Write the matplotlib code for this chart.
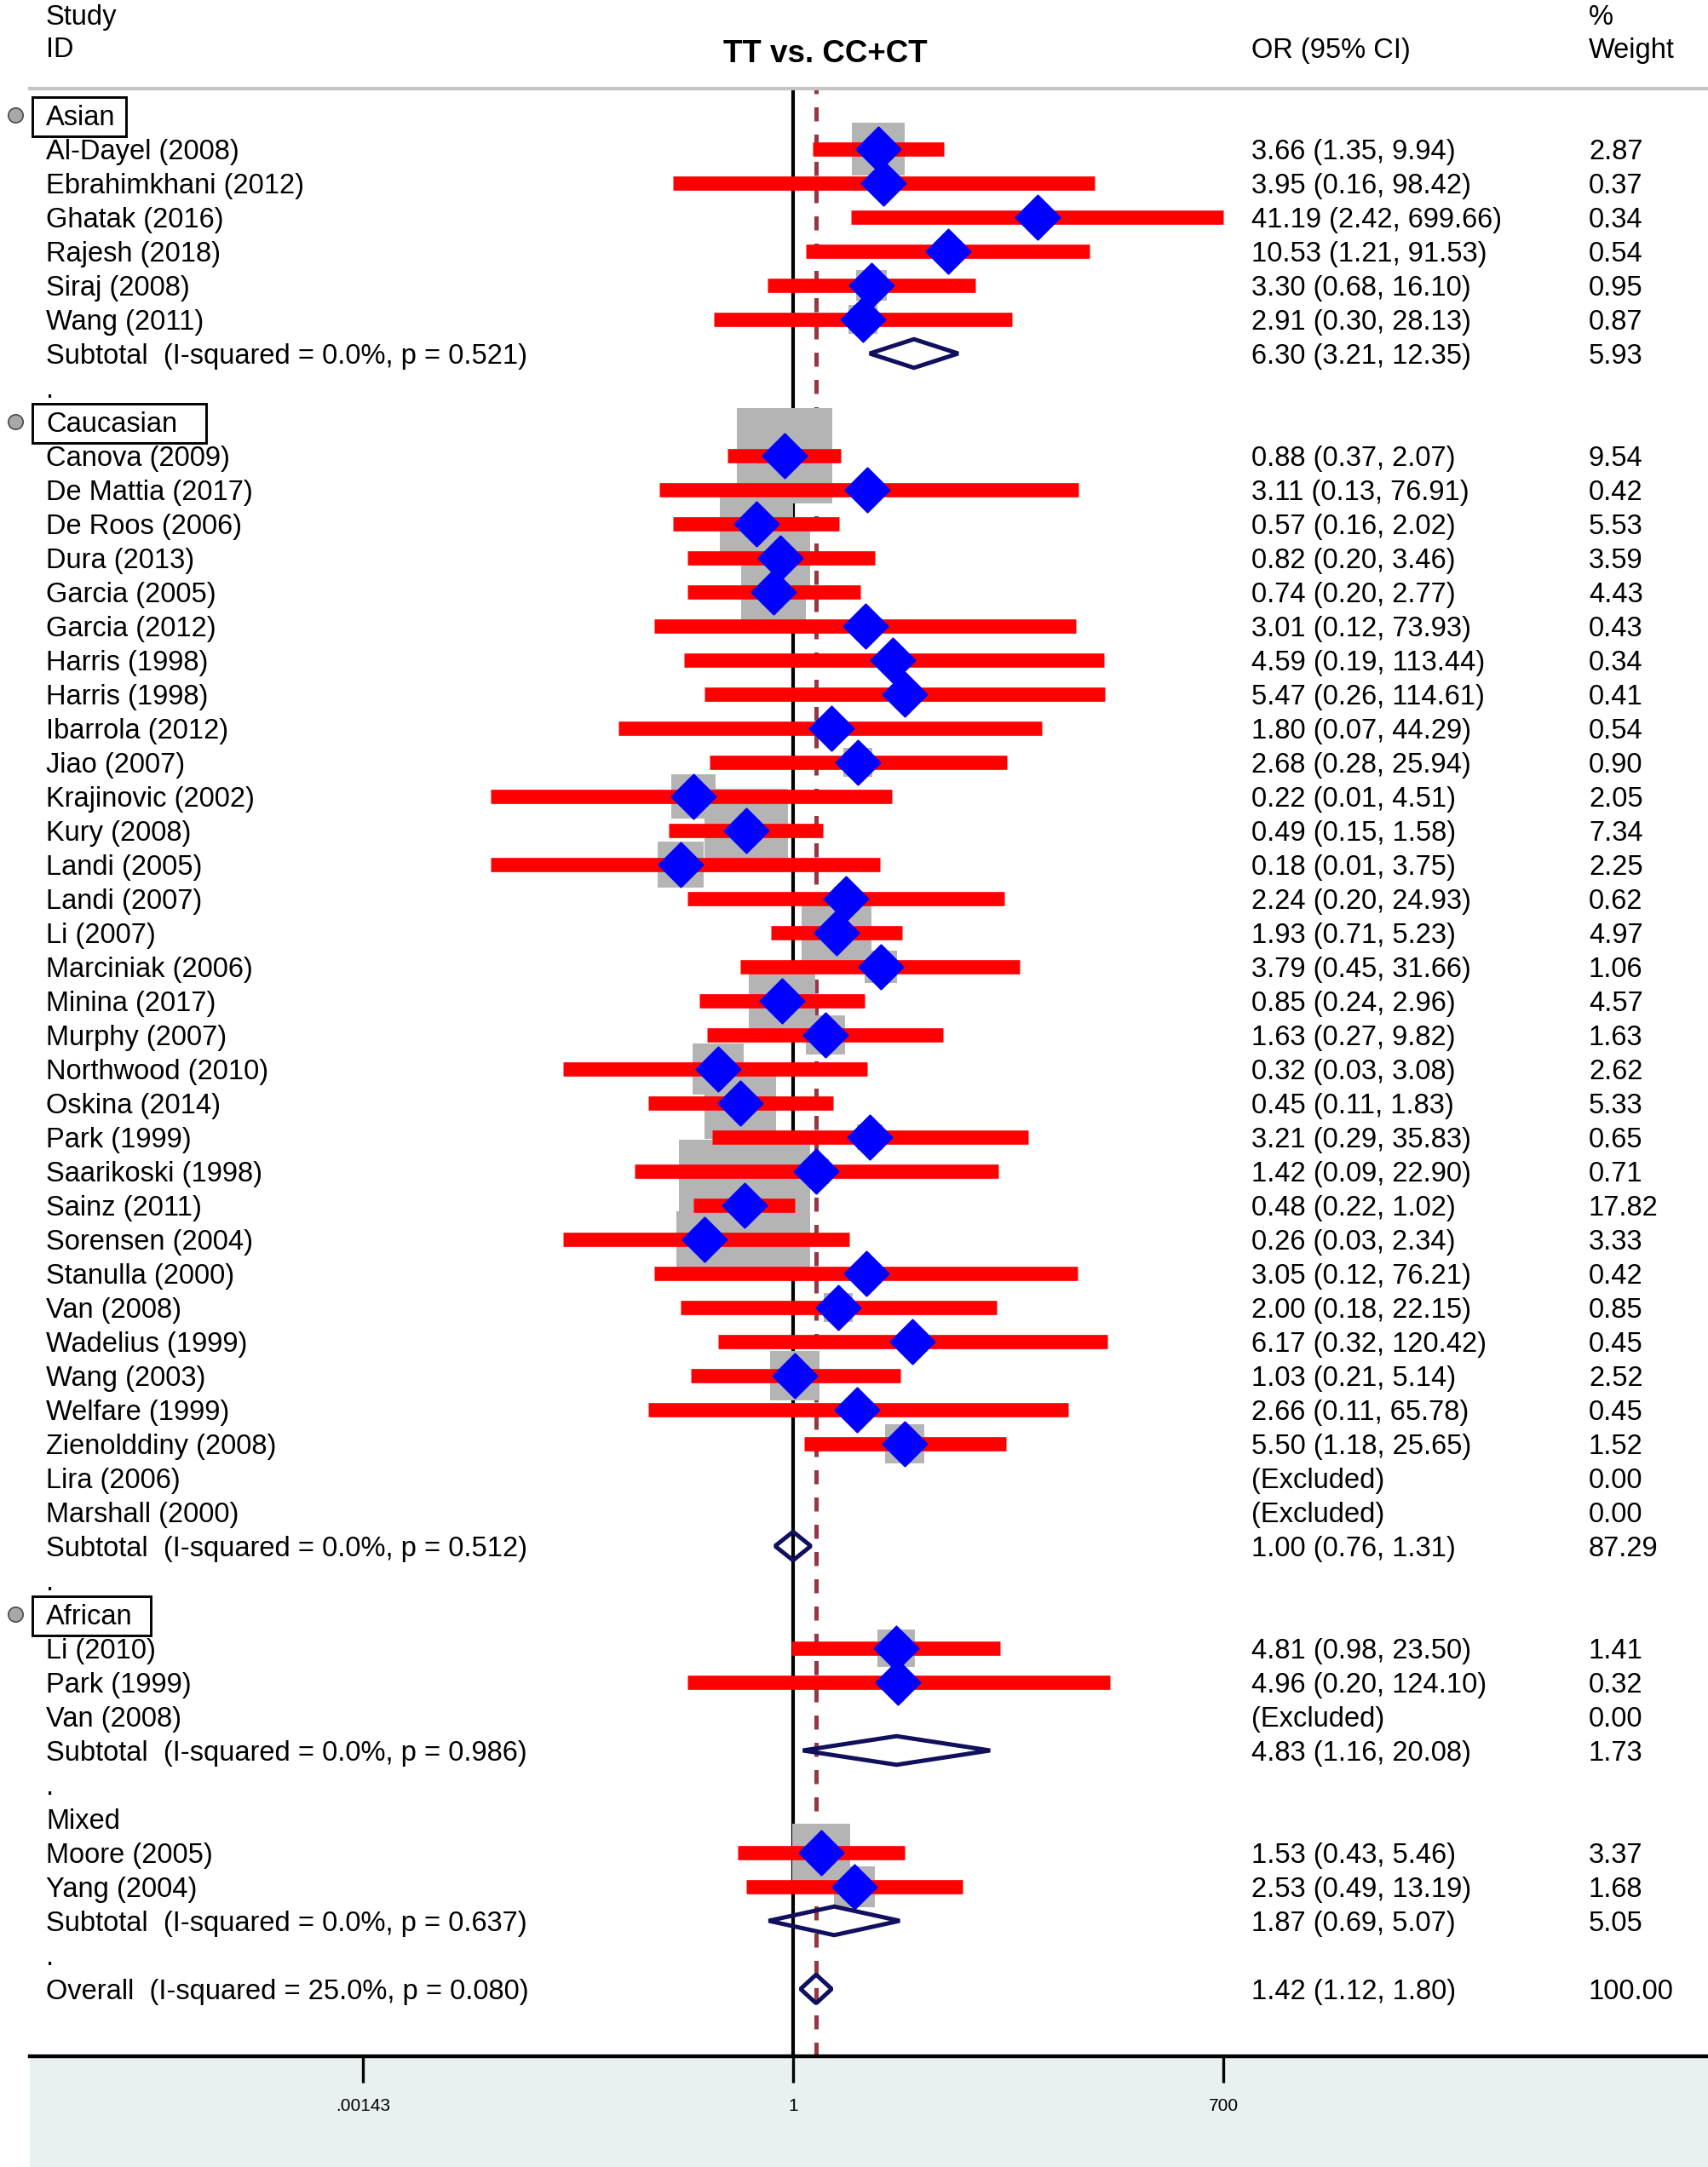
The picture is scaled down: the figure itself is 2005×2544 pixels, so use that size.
import numpy as np
import matplotlib
matplotlib.use("Agg")
import matplotlib.pyplot as plt
from matplotlib import transforms
from matplotlib.path import Path
from matplotlib.patches import Polygon, Rectangle
from matplotlib.ticker import NullLocator

plt.rcParams['font.family'] = ['Liberation Sans', 'DejaVu Sans']

# ---------------- data ----------------
asian_names = ["Al-Dayel (2008)", "Ebrahimkhani (2012)", "Ghatak (2016)", "Rajesh (2018)",
               "Siraj (2008)", "Wang (2011)"]
asian_or = [3.66, 3.95, 41.19, 10.53, 3.30, 2.91]
asian_lo = [1.35, 0.16, 2.42, 1.21, 0.68, 0.30]
asian_hi = [9.94, 98.42, 699.66, 91.53, 16.10, 28.13]
asian_w = [2.87, 0.37, 0.34, 0.54, 0.95, 0.87]
asian_sub = (6.30, 3.21, 12.35, 5.93, "Subtotal  (I-squared = 0.0%, p = 0.521)")

cauc_names = ["Canova (2009)", "De Mattia (2017)", "De Roos (2006)", "Dura (2013)", "Garcia (2005)",
              "Garcia (2012)", "Harris (1998)", "Harris (1998)", "Ibarrola (2012)", "Jiao (2007)",
              "Krajinovic (2002)", "Kury (2008)", "Landi (2005)", "Landi (2007)", "Li (2007)",
              "Marciniak (2006)", "Minina (2017)", "Murphy (2007)", "Northwood (2010)", "Oskina (2014)",
              "Park (1999)", "Saarikoski (1998)", "Sainz (2011)", "Sorensen (2004)", "Stanulla (2000)",
              "Van (2008)", "Wadelius (1999)", "Wang (2003)", "Welfare (1999)", "Zienolddiny (2008)",
              "Lira (2006)", "Marshall (2000)"]
cauc_or = [0.88, 3.11, 0.57, 0.82, 0.74, 3.01, 4.59, 5.47, 1.80, 2.68, 0.22, 0.49, 0.18, 2.24, 1.93,
           3.79, 0.85, 1.63, 0.32, 0.45, 3.21, 1.42, 0.48, 0.26, 3.05, 2.00, 6.17, 1.03, 2.66, 5.50,
           None, None]
cauc_lo = [0.37, 0.13, 0.16, 0.20, 0.20, 0.12, 0.19, 0.26, 0.07, 0.28, 0.01, 0.15, 0.01, 0.20, 0.71,
           0.45, 0.24, 0.27, 0.03, 0.11, 0.29, 0.09, 0.22, 0.03, 0.12, 0.18, 0.32, 0.21, 0.11, 1.18,
           None, None]
cauc_hi = [2.07, 76.91, 2.02, 3.46, 2.77, 73.93, 113.44, 114.61, 44.29, 25.94, 4.51, 1.58, 3.75, 24.93,
           5.23, 31.66, 2.96, 9.82, 3.08, 1.83, 35.83, 22.90, 1.02, 2.34, 76.21, 22.15, 120.42, 5.14,
           65.78, 25.65, None, None]
cauc_w = [9.54, 0.42, 5.53, 3.59, 4.43, 0.43, 0.34, 0.41, 0.54, 0.90, 2.05, 7.34, 2.25, 0.62, 4.97,
          1.06, 4.57, 1.63, 2.62, 5.33, 0.65, 0.71, 17.82, 3.33, 0.42, 0.85, 0.45, 2.52, 0.45, 1.52,
          0.00, 0.00]
cauc_sub = (1.00, 0.76, 1.31, 87.29, "Subtotal  (I-squared = 0.0%, p = 0.512)")

afr_names = ["Li (2010)", "Park (1999)", "Van (2008)"]
afr_or = [4.81, 4.96, None]
afr_lo = [0.98, 0.20, None]
afr_hi = [23.50, 124.10, None]
afr_w = [1.41, 0.32, 0.00]
afr_sub = (4.83, 1.16, 20.08, 1.73, "Subtotal  (I-squared = 0.0%, p = 0.986)")

mix_names = ["Moore (2005)", "Yang (2004)"]
mix_or = [1.53, 2.53]
mix_lo = [0.43, 0.49]
mix_hi = [5.46, 13.19]
mix_w = [3.37, 1.68]
mix_sub = (1.87, 0.69, 5.07, 5.05, "Subtotal  (I-squared = 0.0%, p = 0.637)")

overall = (1.42, 1.12, 1.80, 100.00, "Overall  (I-squared = 25.0%, p = 0.080)")

groups = [
    ("Asian", True, asian_names, asian_or, asian_lo, asian_hi, asian_w, asian_sub),
    ("Caucasian", True, cauc_names, cauc_or, cauc_lo, cauc_hi, cauc_w, cauc_sub),
    ("African", True, afr_names, afr_or, afr_lo, afr_hi, afr_w, afr_sub),
    ("Mixed", False, mix_names, mix_or, mix_lo, mix_hi, mix_w, mix_sub),
]

tick_vals = [0.00143, 1, 700]
tick_labels = [".00143", "1", "700"]
title = "TT vs. CC+CT"

# ---------------- layout ----------------
W, H = 2006, 2544
fig = plt.figure(figsize=(W / 100, H / 100), dpi=100)
fig.patch.set_facecolor("white")

ROW0, ROWH = 135.0, 40.0          # pixel y of row 0 and row spacing
AX_TOP, AX_BOT = 104, 2414        # pixel y of top and bottom rules
AX_L, AX_R = 35, 2006
X1, K = 931, 77.1                 # pixel of OR=1, pixels per ln unit
box_right_pad = {"Asian": 13, "Caucasian": 34, "African": 21}

# light background under axis
fig.patches.append(Rectangle((AX_L / W, 0), 1 - AX_L / W, (H - AX_BOT) / H,
                             transform=fig.transFigure, facecolor="#e8f0f2",
                             edgecolor="none", zorder=-5))

ax = fig.add_axes([AX_L / W, (H - AX_BOT) / H, (AX_R - AX_L) / W, (AX_BOT - AX_TOP) / H])
ax.set_facecolor("none")
ax.set_xscale("log")
ax.set_xlim(np.exp(-(X1 - AX_L) / K), np.exp((AX_R - X1) / K))
ax.set_ylim((AX_BOT - ROW0) / ROWH, (AX_TOP - ROW0) / ROWH)
ax.set_yticks([])
ax.xaxis.set_minor_locator(NullLocator())
ax.set_xticks(tick_vals)
ax.set_xticklabels(tick_labels)
ax.tick_params(axis="x", direction="out", length=22, width=2.4, pad=13, labelsize=15)
for s in ("left", "right"):
    ax.spines[s].set_visible(False)
ax.spines["top"].set_color("#c4c4c4")
ax.spines["top"].set_linewidth(3.0)
ax.spines["bottom"].set_color("black")
ax.spines["bottom"].set_linewidth(3.2)

ax.axvline(1, color="black", lw=3.0, zorder=1)
ax.axvline(overall[0], color="#963743", lw=3.6, dashes=(3.3, 3.1), zorder=1)

blend = transforms.blended_transform_factory(fig.transFigure, ax.transData)
tshift = blend + transforms.ScaledTranslation(0, -0.035, fig.dpi_scale_trans)
FS = 23.5
X_NAME, X_OR, X_W = 54, 1469, 1865

diamond = Path([(0, 1), (1, 0), (0, -1), (-1, 0), (0, 1)],
               [Path.MOVETO, Path.LINETO, Path.LINETO, Path.LINETO, Path.CLOSEPOLY])

def txt(xpx, row, s, **kw):
    return ax.text(xpx / W, row, s, transform=tshift, fontsize=kw.pop("fontsize", FS),
                   va="center", ha=kw.pop("ha", "left"), **kw)

def rowy(px):
    return (px - ROW0) / ROWH

# headers
txt(X_NAME, rowy(17), "Study")
txt(X_NAME, rowy(55), "ID")
txt(969, rowy(60), title, ha="center", fontweight="bold", fontsize=26.5)
txt(X_OR, rowy(56), "OR (95% CI)")
txt(X_W, rowy(17), "%")
txt(X_W, rowy(56), "Weight")

def subtotal(row, stats):
    est, lo, hi, w, label = stats
    h = 0.42
    poly = Polygon([(lo, row), (est, row - h), (hi, row), (est, row + h)], closed=True,
                   fill=False, edgecolor="#10105e", lw=3.6, joinstyle="bevel", zorder=4)
    ax.add_patch(poly)
    txt(X_NAME, row, label)
    txt(X_OR, row, f"{est:.2f} ({lo:.2f}, {hi:.2f})")
    txt(X_W, row, f"{w:.2f}")

boxes = []
row = 0
for gname, boxed, names, ors, los, his, ws, sub in groups:
    t = txt(X_NAME, row, gname)
    if boxed:
        boxes.append((gname, t, row))
        ax.plot([18 / W], [row], transform=blend, marker="o", ms=12.5, mfc="#a8a8a8",
                mec="#4a4a4a", mew=1.2, clip_on=False, zorder=5)
    row += 1
    for n, o, lo, hi, w in zip(names, ors, los, his, ws):
        txt(X_NAME, row, n)
        if o is None:
            txt(X_OR, row, "(Excluded)")
        else:
            side_pt = 36.5 * np.sqrt(w) * 0.72
            ax.plot([o], [row], marker="s", ms=side_pt, color="#b4b4b4", mew=0, zorder=2,
                    linestyle="none")
            ax.plot([lo, hi], [row, row], color="#ff0000", lw=12, solid_capstyle="butt", zorder=3)
            ax.plot([o], [row], marker=diamond, ms=37.5, color="#0000ff", mec="#0000ff", mew=1.5,
                    linestyle="none", zorder=4)
            txt(X_OR, row, f"{o:.2f} ({lo:.2f}, {hi:.2f})")
        txt(X_W, row, f"{w:.2f}")
        row += 1
    subtotal(row, sub)
    row += 1
    txt(X_NAME, row, ".")
    row += 1

subtotal(row, overall)

# boxes around subgroup labels
fig.canvas.draw()
renderer = fig.canvas.get_renderer()
for gname, t, r in boxes:
    bb = t.get_window_extent(renderer)
    yc = ax.transData.transform((1, r))[1] - 2
    x0 = 38
    x1 = bb.x1 + box_right_pad[gname]
    fig.patches.append(Rectangle((x0 / W, (yc - 23) / H), (x1 - x0) / W, 46 / H,
                                 transform=fig.transFigure, fill=False, edgecolor="black",
                                 lw=2.1, zorder=5))

fig.savefig("out.png", dpi=100, facecolor="white")
